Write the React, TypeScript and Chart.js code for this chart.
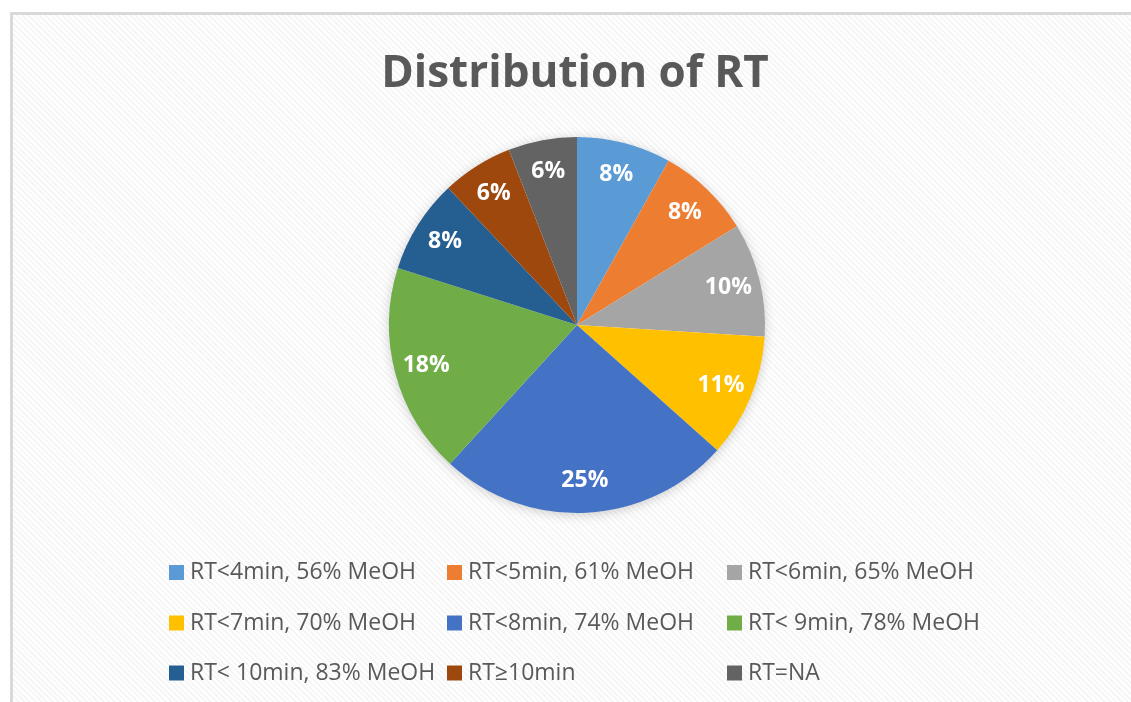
import React, { useEffect, useRef } from "react";
import { Chart, registerables } from "chart.js";

Chart.register(...registerables);

const TITLE = "Distribution of RT";
const CATEGORIES = [
  "RT<4min, 56% MeOH",
  "RT<5min, 61% MeOH",
  "RT<6min, 65% MeOH",
  "RT<7min, 70% MeOH",
  "RT<8min, 74% MeOH",
  "RT< 9min, 78% MeOH",
  "RT< 10min, 83% MeOH",
  "RT\u226510min",
  "RT=NA",
];
const VALUES = [8.1, 8.1, 9.8, 10.6, 25.2, 18.1, 8.1, 6.1, 5.9];
const COLORS = [
  "#5B9BD5",
  "#ED7D31",
  "#A5A5A5",
  "#FFC000",
  "#4472C4",
  "#70AD47",
  "#255E91",
  "#9E480E",
  "#636363",
];

const FONT = "'Open Sans', 'Noto Sans', sans-serif";
const TEXT_COLOR = "#595959";

const W = 1131;
const H = 702;
const CX = 577;
const CY = 325;
const R = 188;

const overlayPlugin = {
  id: "overlay",
  beforeDatasetsDraw(chart: any) {
    const meta = chart.getDatasetMeta(0);
    const a = meta.data[0];
    if (!a) return;
    const ctx = chart.ctx;
    ctx.save();
    ctx.shadowColor = "rgba(0,0,0,0.22)";
    ctx.shadowBlur = 12;
    ctx.shadowOffsetX = 0;
    ctx.shadowOffsetY = 2;
    ctx.fillStyle = "#ffffff";
    ctx.beginPath();
    ctx.arc(a.x, a.y, a.outerRadius - 1, 0, Math.PI * 2);
    ctx.fill();
    ctx.restore();
  },
  afterDatasetsDraw(chart: any) {
    const ctx = chart.ctx;
    const meta = chart.getDatasetMeta(0);
    const data = chart.data.datasets[0].data as number[];
    const total = data.reduce((s, v) => s + v, 0);
    ctx.save();
    ctx.fillStyle = "#ffffff";
    ctx.font = `bold 23px ${FONT}`;
    ctx.textAlign = "center";
    ctx.textBaseline = "middle";
    meta.data.forEach((arc: any, i: number) => {
      const mid = (arc.startAngle + arc.endAngle) / 2;
      const d = arc.outerRadius * 0.83;
      const x = arc.x + Math.cos(mid) * d;
      const y = arc.y + Math.sin(mid) * d;
      ctx.fillText(Math.round((data[i] / total) * 100) + "%", x, y);
    });
    ctx.restore();
  },
  afterDraw(chart: any) {
    const ctx = chart.ctx;
    ctx.save();
    // title
    ctx.fillStyle = TEXT_COLOR;
    ctx.font = `bold 44px ${FONT}`;
    ctx.textAlign = "center";
    ctx.textBaseline = "alphabetic";
    ctx.fillText(TITLE, 575, 87);
    // legend
    const labels = chart.data.labels as string[];
    const colX = [169, 447, 727];
    const rowY = [579, 629.5, 679.5];
    ctx.font = `23px ${FONT}`;
    ctx.textAlign = "left";
    labels.forEach((lab, i) => {
      const c = i % 3;
      const r = Math.floor(i / 3);
      const x = colX[c];
      const y = rowY[r];
      ctx.fillStyle = COLORS[i];
      ctx.fillRect(x, y - 14, 15, 15);
      ctx.fillStyle = TEXT_COLOR;
      ctx.fillText(lab, x + 21, y);
    });
    ctx.restore();
  },
};

export default function App() {
  const ref = useRef<HTMLCanvasElement | null>(null);
  useEffect(() => {
    if (!ref.current) return;
    const chart = new Chart(ref.current, {
      type: "pie",
      data: {
        labels: CATEGORIES,
        datasets: [
          {
            data: VALUES,
            backgroundColor: COLORS,
            borderWidth: 0,
          },
        ],
      },
      options: {
        responsive: false,
        animation: false,
        layout: {
          padding: {
            left: CX - R,
            right: W - (CX + R),
            top: CY - R,
            bottom: H - (CY + R),
          },
        },
        plugins: {
          legend: { display: false },
          title: { display: false },
          tooltip: { enabled: false },
        },
      },
      plugins: [overlayPlugin],
    });
    return () => chart.destroy();
  }, []);

  return (
    <div
      style={{
        position: "fixed",
        left: 0,
        top: 0,
        width: W,
        height: H,
        background: "#ffffff",
        overflow: "hidden",
      }}
    >
      <div
        style={{
          position: "absolute",
          left: 10,
          top: 12,
          width: W + 20,
          height: H + 20,
          borderLeft: "3px solid #d9d9d9",
          borderTop: "3px solid #d9d9d9",
          background:
            "repeating-linear-gradient(45deg, #f6f6f6 0px, #f6f6f6 2px, #ffffff 2px, #ffffff 4px)",
        }}
      />
      <canvas
        ref={ref}
        width={W}
        height={H}
        style={{ position: "absolute", left: 0, top: 0, width: W, height: H }}
      />
    </div>
  );
}
